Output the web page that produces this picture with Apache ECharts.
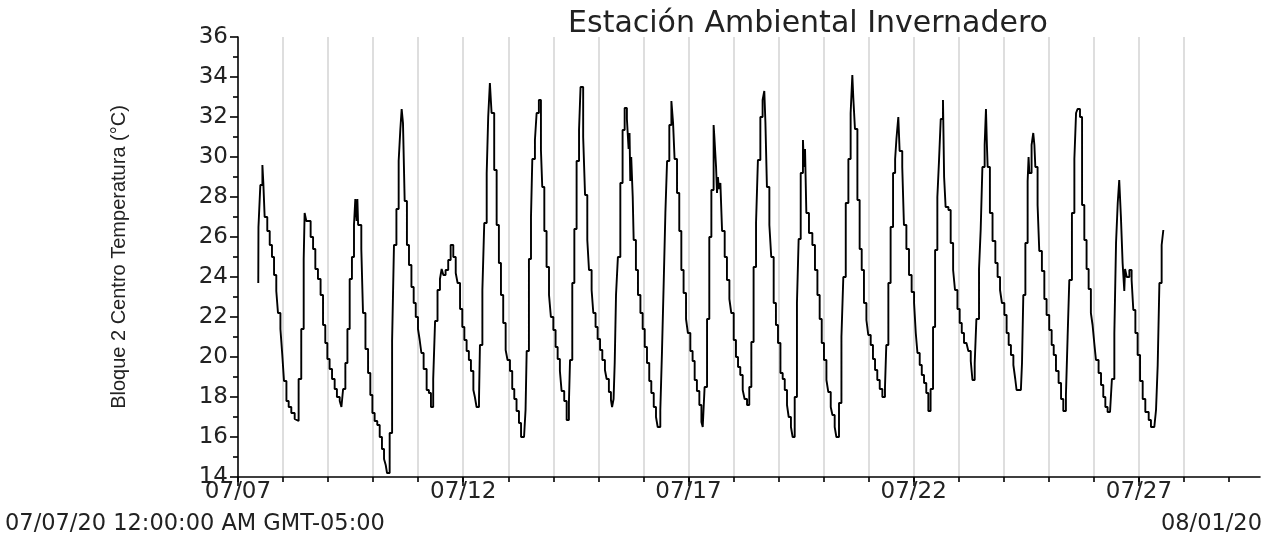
<!DOCTYPE html>
<html><head><meta charset="utf-8">
<script src="https://cdn.jsdelivr.net/npm/echarts@6/dist/echarts.min.js"></script>
<style>html,body{margin:0;padding:0;background:#fff}#c{width:1267px;height:547px}</style>
</head><body><div id="c"></div>
<script>
const titleText = 'Estación Ambiental Invernadero';
const yAxisName = 'Bloque 2 Centro Temperatura (°C)';
const startStamp = '07/07/20 12:00:00 AM GMT-05:00';
const endStamp = '08/01/20';
const tickLabels = ['07/07', '07/12', '07/17', '07/22', '07/27'];
const tickDays = [0, 5, 10, 15, 20];
const axisEndHours = 544.5;   // x axis ends about 07/29 16:30
// hours after 07/07 00:00 and temperature (°C)
const hours = [10.8,10.9,11.9,13.0,13.5,14.2,15.6,16.9,18.1,19.2,20.4,21.3,22.6,23.6,24.5,25.8,27.0,28.4,30.2,31.1,32.3,33.7,35.0,35.5,36.4,38.7,40.0,41.2,42.6,44.0,45.3,46.5,47.6,48.8,50.1,51.5,52.7,54.2,55.1,56.0,57.2,58.3,59.5,60.7,61.8,62.5,63.2,63.6,64.0,65.7,66.6,67.9,69.3,70.5,71.6,72.8,74.2,75.5,76.7,77.8,78.7,79.4,80.8,82.1,83.1,84.4,85.6,86.5,87.2,87.9,88.8,90.0,91.1,92.4,93.6,94.7,95.9,96.8,97.7,98.9,100.5,101.7,102.8,104.0,105.0,106.3,107.6,108.5,109.4,110.6,112.0,113.3,114.7,116.0,117.0,118.3,119.5,120.6,121.8,123.0,124.1,125.4,126.2,127.1,128.4,128.9,130.2,131.2,132.5,133.3,134.2,135.1,136.5,137.8,139.0,140.1,141.3,142.6,143.6,144.9,146.1,147.2,148.4,149.7,150.8,152.4,153.2,153.8,155.0,156.1,156.8,158.2,159.1,160.3,161.4,162.1,163.2,164.4,165.7,166.7,168.0,169.2,170.3,171.5,172.4,173.8,175.1,176.3,176.9,178.1,179.2,180.4,181.7,182.5,183.9,184.9,186.1,187.0,188.4,189.3,190.5,191.6,192.9,194.1,195.5,196.4,197.6,198.7,199.3,200.1,200.7,201.4,202.4,203.7,204.9,206.0,207.2,208.1,208.6,209.0,209.5,210.3,210.8,212.0,213.1,214.4,215.6,216.7,217.9,219.1,220.2,221.5,222.7,223.6,225.0,225.9,226.8,227.7,228.6,229.8,230.9,231.8,232.6,233.9,235.1,236.2,237.4,238.7,239.7,241.0,242.2,243.3,244.5,245.8,246.9,247.6,248.6,249.9,251.1,252.2,253.4,253.8,254.7,255.2,255.7,256.2,257.0,257.9,259.3,260.5,261.8,262.8,264.1,265.3,266.4,267.6,268.9,269.9,271.2,272.4,273.5,274.7,276.0,277.0,278.3,279.5,280.4,281.0,281.8,283.1,284.1,285.4,286.6,287.7,289.0,290.2,291.3,292.5,293.4,294.6,295.5,296.6,297.8,298.7,299.8,301.0,301.5,302.1,302.8,304.2,306.0,307.4,308.7,309.9,311.0,312.2,313.5,314.5,315.8,316.7,317.9,318.8,320.2,321.5,322.5,323.8,325.2,326.4,327.3,327.8,328.7,330.0,331.2,332.3,333.5,334.8,335.8,337.1,338.3,339.4,340.6,341.9,343.3,344.7,345.4,346.5,347.7,349.0,350.1,350.8,351.8,352.5,353.9,354.8,356.1,357.5,358.9,360.2,361.1,362.0,363.2,364.3,365.5,366.7,367.8,369.0,370.3,371.4,372.6,373.5,374.4,375.6,376.2,377.0,378.5,379.7,381.0,382.0,383.3,384.5,385.6,386.8,388.1,389.1,390.4,391.3,392.5,393.4,394.8,395.7,396.6,397.8,398.5,399.0,399.4,400.6,402.0,403.5,404.7,406.0,407.0,408.3,409.5,410.6,411.8,413.1,414.1,414.8,417.1,417.7,418.4,419.5,420.7,421.2,421.6,422.8,423.7,424.3,424.8,426.0,426.9,428.3,429.6,430.8,432.2,433.5,434.6,435.8,437.2,438.5,439.7,441.1,442.0,442.9,444.3,445.6,446.5,447.3,448.6,449.7,450.9,452.1,453.2,454.4,455.3,456.2,457.1,458.5,459.8,461.0,462.1,463.3,464.6,465.6,466.9,467.8,468.7,469.5,470.4,471.3,472.2,472.6,473.5,474.9,476.1,477.0,478.1,479.3,480.6,482.0,483.4,485.2,486.4,488.2,489.1,490.0,490.9,492.1,493.0];
const temps = [23.7,26.5,28.6,29.6,28.7,27.0,26.3,25.6,25.0,24.1,23.3,22.2,21.4,20.1,18.8,17.8,17.5,17.2,16.9,16.8,18.9,21.4,24.9,27.2,26.8,26.0,25.4,24.4,23.9,23.1,21.6,20.7,19.9,19.4,18.9,18.4,18.0,17.8,17.5,18.4,19.7,21.4,23.9,25.0,26.6,27.9,26.8,27.9,26.6,25.4,22.2,20.4,19.2,18.1,17.2,16.8,16.6,16.0,15.4,14.9,14.6,14.2,16.2,20.8,25.6,27.4,29.8,31.4,32.4,31.7,27.8,25.6,24.6,23.5,22.7,22.0,21.4,20.85,20.2,19.4,18.35,18.2,17.5,18.9,21.8,23.35,23.9,24.4,24.1,24.35,24.85,25.6,25.0,24.2,23.7,22.4,21.5,20.85,20.3,19.85,19.3,18.35,18.0,17.5,17.9,20.6,23.35,26.7,29.2,32.0,33.7,32.2,29.35,26.6,24.7,23.1,21.7,20.35,19.85,19.3,18.4,17.9,17.3,16.7,16.0,16.0,17.35,20.3,24.9,27.0,29.9,30.85,32.2,32.85,30.35,28.5,26.3,24.5,23.1,22.0,21.35,20.5,19.9,19.3,18.3,17.8,16.85,17.7,19.85,23.7,26.4,29.8,31.35,33.5,31.0,28.1,25.85,24.35,23.35,22.2,21.5,20.9,20.35,19.85,19.35,18.9,18.25,17.85,17.5,17.9,19.7,23.1,25.0,28.7,31.35,32.45,31.9,30.4,31.2,28.8,30.0,28.0,25.85,24.35,23.1,22.2,21.4,20.5,19.7,18.8,18.2,17.5,17.0,16.5,17.35,20.3,23.7,27.2,29.8,31.6,32.8,31.7,29.9,28.2,26.3,24.35,23.2,21.9,21.2,20.3,19.8,18.85,18.3,17.6,16.75,16.5,18.5,21.9,26.0,28.35,31.6,31.0,29.5,28.2,29.0,28.4,28.7,26.3,25.0,23.85,22.9,22.2,20.85,20.0,19.5,19.1,18.35,17.9,17.6,18.5,20.75,24.5,26.7,29.85,32.0,32.85,33.3,31.7,28.5,26.6,25.0,22.7,21.6,20.7,19.2,18.9,18.35,17.6,17.0,16.5,16.0,18.0,22.7,25.9,29.2,30.85,29.5,30.4,27.2,26.2,25.6,24.35,23.1,21.9,20.7,19.85,18.85,18.25,17.5,17.1,16.5,16.0,17.7,21.0,24.0,27.7,29.9,32.2,34.1,33.0,31.4,27.85,25.4,24.35,22.7,21.85,21.1,20.6,19.9,19.35,18.85,18.4,18.0,18.5,20.6,23.7,26.5,29.2,29.9,30.9,32.0,30.3,29.5,26.6,25.4,24.1,23.25,22.7,21.2,20.2,19.6,19.1,18.7,18.2,17.3,18.4,21.5,25.35,28.0,29.85,31.9,32.85,29.0,27.5,27.35,25.7,24.35,23.35,22.4,21.7,21.2,20.7,20.6,20.3,19.8,18.85,19.7,21.9,24.4,26.4,29.5,30.6,32.4,30.6,29.5,27.2,25.8,24.7,24.0,23.35,22.7,22.1,21.2,20.6,20.1,19.6,18.9,18.35,18.35,19.7,23.1,25.7,28.8,30.0,29.2,30.6,31.2,30.6,29.5,27.6,25.3,24.3,22.9,22.1,21.35,20.6,20.1,19.3,18.7,17.9,17.3,18.1,21.0,23.85,27.2,29.9,32.2,32.4,32.0,27.6,25.85,24.4,23.4,22.2,21.6,20.7,19.85,19.2,18.6,18.0,17.5,17.25,17.35,18.9,21.2,25.7,27.7,28.85,27.0,24.7,23.3,24.4,24.0,24.35,23.85,22.35,21.2,20.1,18.8,17.9,17.25,16.85,16.5,16.5,17.35,19.6,23.7,25.6,26.35];

const seriesData = hours.map((h, i) => [h, temps[i]]);
const dayTickHours = [];
for (let d = 0; d * 24 <= axisEndHours; d++) dayTickHours.push(d * 24);
const majorTickHours = tickDays.map(d => d * 24);

const FONT = 'DejaVu Sans';
const chart = echarts.init(document.getElementById('c'), null, {renderer: 'canvas'});
const option = {
  animation: false,
  backgroundColor: '#ffffff',
  title: {
    text: titleText, left: 803, top: 4, textAlign: 'center',
    textStyle: {fontFamily: FONT, fontSize: 30, fontWeight: 'normal', color: '#222'}
  },
  grid: {left: 238, right: 7, top: 37, bottom: 70, containLabel: false},
  xAxis: [
    {
      type: 'value', min: 0, max: axisEndHours, interval: 24, position: 'bottom',
      axisLine: {show: true, onZero: false, lineStyle: {color: '#000', width: 1.6}},
      axisTick: {show: true, length: 5, customValues: dayTickHours, lineStyle: {color: '#000', width: 1.6}},
      axisLabel: {show: false},
      splitLine: {show: true, showMinLine: false, showMaxLine: false, lineStyle: {color: '#d6d6d6', width: 1.6}}
    },
    {
      type: 'value', min: 0, max: axisEndHours, interval: 120, position: 'bottom',
      axisLine: {show: false, onZero: false},
      axisTick: {show: true, length: 9, customValues: majorTickHours, lineStyle: {color: '#000', width: 1.6}},
      axisLabel: {
        show: true, customValues: majorTickHours, margin: 4,
        fontFamily: FONT, fontSize: 23, color: '#222',
        formatter: v => { const i = majorTickHours.indexOf(v); return i >= 0 ? tickLabels[i] : ''; }
      },
      splitLine: {show: false}
    }
  ],
  yAxis: {
    type: 'value', min: 14, max: 36, interval: 2,
    name: yAxisName, nameLocation: 'middle', nameGap: 109, nameRotate: 90,
    nameTextStyle: {fontFamily: 'Liberation Sans', fontSize: 20, color: '#222'},
    axisLine: {show: true, lineStyle: {color: '#000', width: 1.6}},
    axisTick: {show: true, length: 8, lineStyle: {color: '#000', width: 1.6}},
    minorTick: {show: true, splitNumber: 2, length: 5, lineStyle: {color: '#000', width: 1.6}},
    axisLabel: {margin: 10, fontFamily: FONT, fontSize: 23, color: '#222'},
    splitLine: {show: false}
  },
  graphic: [
    {type: 'text', x: 5, y: 524, style: {text: startStamp, font: '22.5px "DejaVu Sans"', fill: '#222', align: 'left', verticalAlign: 'middle', textAlign: 'left', textVerticalAlign: 'middle'}},
    {type: 'text', x: 1262, y: 524, style: {text: endStamp, font: '22.5px "DejaVu Sans"', fill: '#222', align: 'right', verticalAlign: 'middle', textAlign: 'right', textVerticalAlign: 'middle'}}
  ],
  series: [{
    type: 'line', xAxisIndex: 0, data: seriesData, step: 'end',
    showSymbol: false, symbol: 'none',
    lineStyle: {color: '#000', width: 1.9}
  }]
};
chart.setOption(option);
</script>
</body></html>
